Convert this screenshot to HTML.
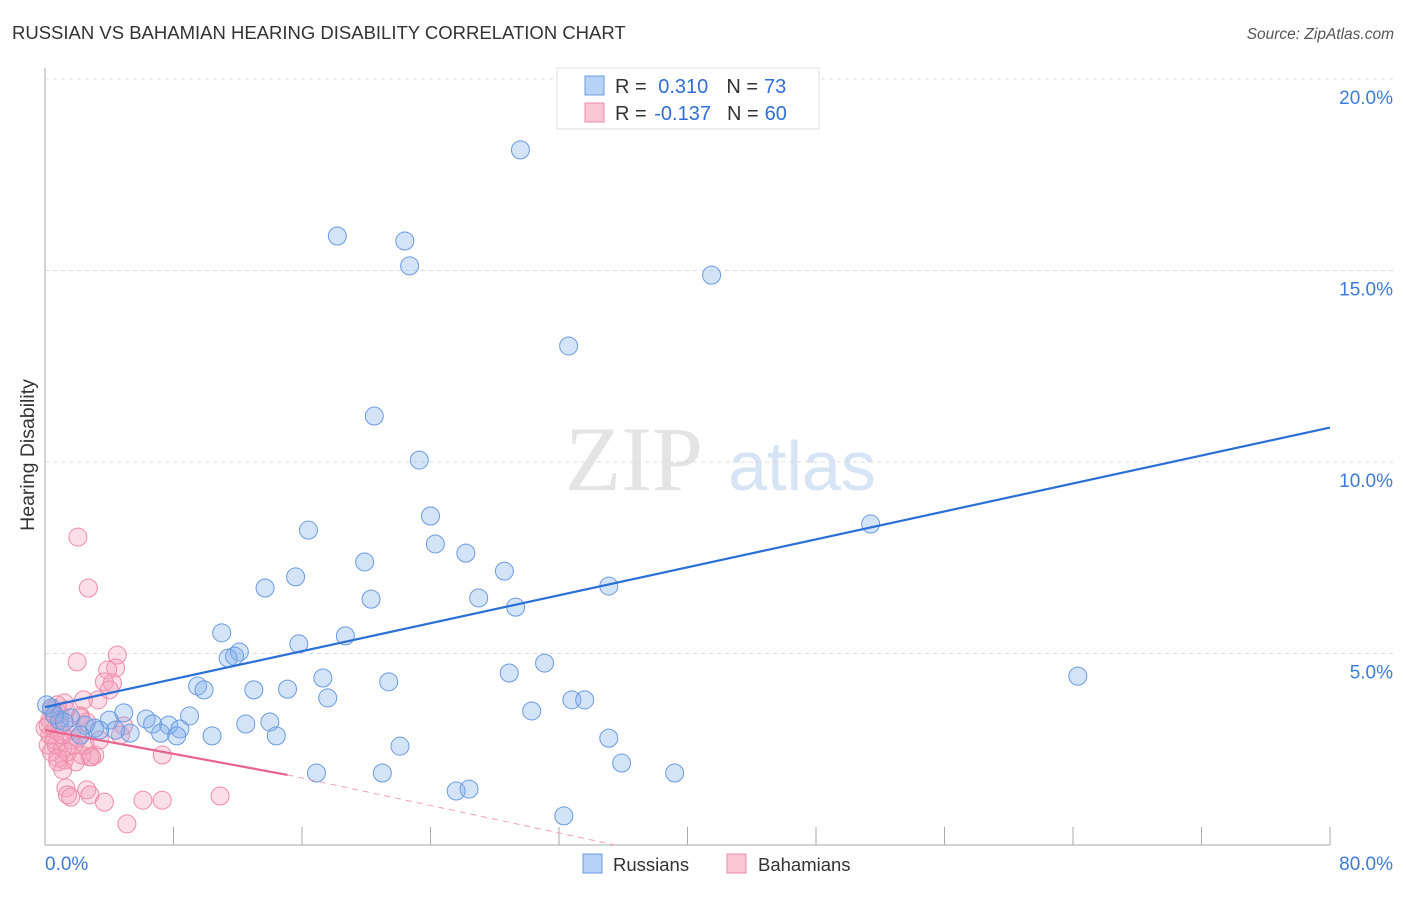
<!DOCTYPE html>
<html><head><meta charset="utf-8"><style>
body{margin:0;background:#fff;font-family:"Liberation Sans",sans-serif}
</style></head><body>
<svg id="c" width="1406" height="892" xmlns="http://www.w3.org/2000/svg" style="font-family:'Liberation Sans',sans-serif">
<text x="12" y="39" font-size="18.5" fill="#333">RUSSIAN VS BAHAMIAN HEARING DISABILITY CORRELATION CHART</text>
<text x="1394" y="39" font-size="15.5" fill="#555" font-style="italic" text-anchor="end">Source: ZipAtlas.com</text>
<text x="634" y="490" font-size="92" fill="#e4e4e4" font-family="Liberation Serif,serif" text-anchor="middle">ZIP</text>
<text x="802" y="490" font-size="70" fill="#d6e4f5" text-anchor="middle">atlas</text>
<text transform="translate(34,455) rotate(-90)" font-size="19.5" fill="#333" text-anchor="middle">Hearing Disability</text>
<g id="grid"></g><g id="pts"></g><g id="lines"></g>
<g>
<rect x="557" y="68" width="262" height="61" fill="#fff" stroke="#ddd"/>
<rect x="585" y="76" width="19" height="19" fill="#b6d2f5" stroke="#6a9be0"/>
<rect x="585" y="103" width="19" height="19" fill="#f9c6d6" stroke="#f08aaa"/>
<text x="615" y="93" font-size="20" fill="#333">R = <tspan fill="#2f6fd6" dx="6">0.310</tspan><tspan dx="18" fill="#333">N =</tspan><tspan dx="6" fill="#2f6fd6">73</tspan></text>
<text x="615" y="120" font-size="20" fill="#333">R = <tspan fill="#2f6fd6" dx="2">-0.137</tspan><tspan dx="16" fill="#333">N =</tspan><tspan dx="6" fill="#2f6fd6">60</tspan></text>
</g>
<rect x="583" y="854" width="19" height="19" fill="#b6d2f5" stroke="#6a9be0"/>
<text x="613" y="871" font-size="18.5" fill="#333">Russians</text>
<rect x="727" y="854" width="19" height="19" fill="#f9c6d6" stroke="#f08aaa"/>
<text x="758" y="871" font-size="18.5" fill="#333">Bahamians</text>
</svg>
<script>
const yTicks=[5,10,15,20];
const yTickLabels=["5.0%","10.0%","15.0%","20.0%"];
const xTickVals=[0,8,16,24,32,40,48,56,64,72,80];
const xEndLabels=["0.0%","80.0%"];
const rusX=[29.6,18.2,22.4,22.7,41.5,32.6,20.5,23.3,24.0,16.4,24.3,26.2,19.9,28.6,15.6,13.7,35.1,20.3,27.0,29.3,51.4,11.0,18.7,15.8,12.1,11.4,11.8,31.1,28.9,64.3,17.3,9.5,9.9,21.4,13.0,15.1,17.6,32.8,33.6,30.3,4.9,4.0,6.3,9.0,7.7,6.7,12.5,14.0,8.4,7.2,5.3,4.4,10.4,8.2,14.4,35.1,22.1,0.9,0.4,1.6,2.5,3.1,3.4,16.9,21.0,35.9,39.2,25.6,26.4,32.3,0.6,1.2,2.2,0.1];
const rusY=[18.15,15.9,15.77,15.12,14.88,13.03,11.2,10.05,8.59,8.22,7.86,7.62,7.39,7.15,7.0,6.71,6.76,6.42,6.45,6.21,8.38,5.54,5.46,5.25,5.04,4.88,4.93,4.75,4.49,4.41,4.36,4.15,4.05,4.26,4.05,4.07,3.84,3.79,3.79,3.5,3.45,3.26,3.29,3.37,3.13,3.16,3.16,3.21,3.03,2.92,2.92,3.0,2.85,2.85,2.85,2.79,2.58,3.26,3.58,3.32,3.13,3.05,3.0,1.88,1.88,2.14,1.88,1.41,1.46,0.76,3.39,3.21,2.87,3.66];
const bahX=[2.05,2.7,2.0,4.5,4.4,3.9,3.7,4.2,2.4,1.2,0.4,0.9,0.3,2.2,2.6,0.6,1.6,3.1,2.8,1.2,0.8,1.9,2.3,4.9,0.9,0.2,0.7,1.1,7.3,1.3,1.6,2.6,1.4,2.8,3.7,6.1,7.3,10.9,5.1,0.3,0.6,0.0,1.7,2.05,2.5,1.4,2.9,3.4,0.4,0.8,0.2,1.1,1.8,2.2,1.3,0.75,4.0,3.3,4.7,1.1];
const bahY=[8.04,6.71,4.78,4.96,4.62,4.57,4.26,4.23,3.79,3.71,3.52,3.42,3.26,3.37,3.21,3.0,2.74,2.35,2.3,2.22,2.17,2.17,2.35,3.11,3.13,2.61,2.61,2.53,2.35,1.49,1.25,1.44,1.31,1.31,1.12,1.17,1.17,1.28,0.55,2.87,2.74,3.05,3.0,2.79,2.61,2.43,2.3,2.74,2.43,2.27,3.13,2.87,2.61,3.32,3.52,3.66,4.05,3.79,2.87,1.96];
const rusLine=[[0,3.6],[80,10.9]];
const bahSolid=[[0,3.0],[15.1,1.83]];
const bahDash=[[15.1,1.83],[35.5,0]];
const NS="http://www.w3.org/2000/svg";
const X=v=>45+v*(1285/80), Y=v=>845-v*38.3;
function mk(t,a,p){const e=document.createElementNS(NS,t);for(const k in a)e.setAttribute(k,a[k]);p.appendChild(e);return e;}
const grid=document.getElementById('grid');
yTicks.forEach((t,i)=>{
 const l=mk('line',{x1:45,x2:1394,y1:Y(t),y2:Y(t),stroke:'#ddd','stroke-dasharray':'4,4'},grid);
 
 
 const tx=mk('text',{x:1393,y:Y(t)+25,'font-size':19,fill:'#3d7bd9','text-anchor':'end'},grid);
 tx.textContent=yTickLabels[i];
 
 
});
const ax=mk('line',{x1:45,x2:45,y1:68,y2:845,stroke:'#aaa'},grid);


const bx=mk('line',{x1:45,x2:1330,y1:845,y2:845,stroke:'#aaa'},grid);


xTickVals.forEach(t=>{
 const l=mk('line',{x1:X(t),x2:X(t),y1:827,y2:845,stroke:'#aaa'},grid);
 
 
});
const xl0=mk('text',{x:45,y:870,'font-size':19,fill:'#3d7bd9'},grid);xl0.textContent=xEndLabels[0];


const xl1=mk('text',{x:1393,y:870,'font-size':19,fill:'#3d7bd9','text-anchor':'end'},grid);xl1.textContent=xEndLabels[1];


const pts=document.getElementById('pts');
bahX.forEach((v,i)=>{
 const c=mk('circle',{cx:X(v),cy:Y(bahY[i]),r:9,fill:'rgba(244,160,188,0.35)',stroke:'#f08aaa','stroke-width':1},pts);
 
 
});
rusX.forEach((v,i)=>{
 const c=mk('circle',{cx:X(v),cy:Y(rusY[i]),r:9,fill:'rgba(130,175,235,0.35)',stroke:'#6a9be0','stroke-width':1},pts);
 
 
});
const lines=document.getElementById('lines');
const r=mk('line',{x1:X(rusLine[0][0]),y1:Y(rusLine[0][1]),x2:X(rusLine[1][0]),y2:Y(rusLine[1][1]),stroke:'#2a6fd6','stroke-width':2.2},lines);


const b=mk('line',{x1:X(bahSolid[0][0]),y1:Y(bahSolid[0][1]),x2:X(bahSolid[1][0]),y2:Y(bahSolid[1][1]),stroke:'#e8638f','stroke-width':2.2},lines);


const bd=mk('line',{x1:X(bahDash[0][0]),y1:Y(bahDash[0][1]),x2:X(bahDash[1][0]),y2:Y(bahDash[1][1]),stroke:'#f0a0b8','stroke-width':1,'stroke-dasharray':'6,5'},lines);


</script>
</body></html>
